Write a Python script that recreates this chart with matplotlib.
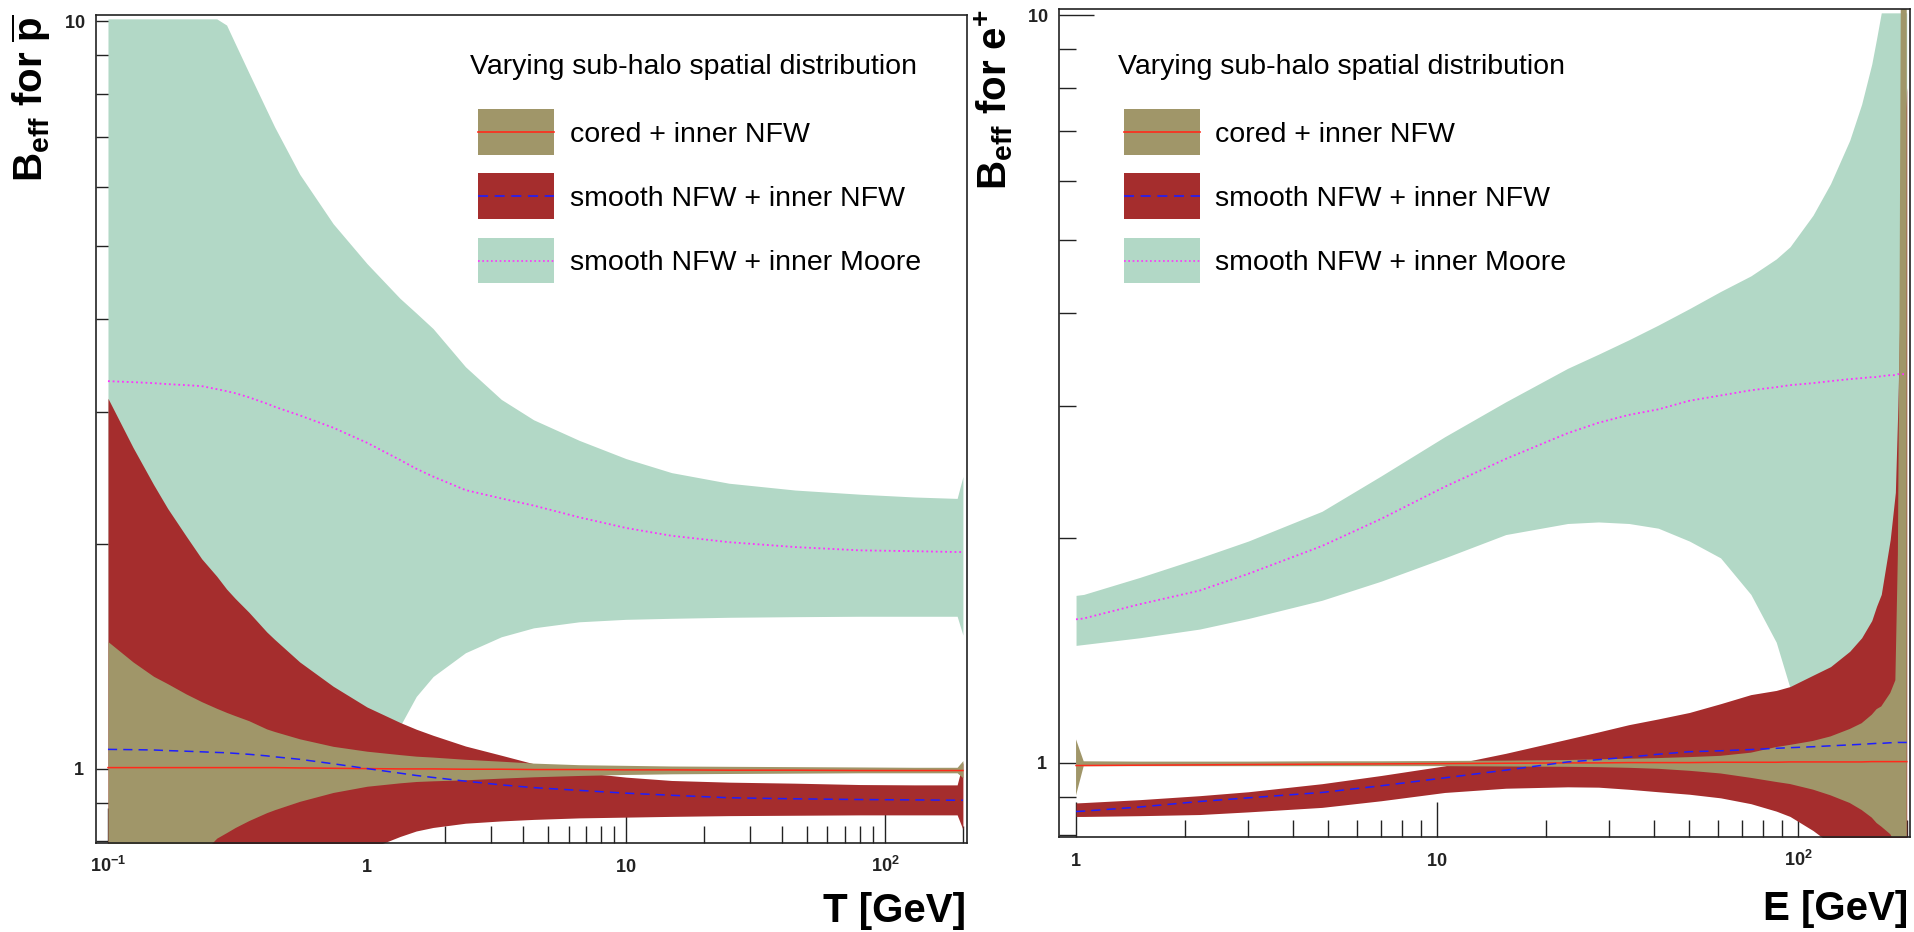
import matplotlib
matplotlib.use('Agg')
import matplotlib.pyplot as plt
from matplotlib.patches import Rectangle
from matplotlib.lines import Line2D
from matplotlib.ticker import FixedLocator, NullFormatter

plt.rcParams['font.family'] = ['Liberation Sans', 'DejaVu Sans']
plt.rcParams['mathtext.fontset'] = 'custom'
plt.rcParams['mathtext.rm'] = 'Liberation Sans'
plt.rcParams['mathtext.bf'] = 'Liberation Sans:bold'
plt.rcParams['mathtext.it'] = 'Liberation Sans:italic'

# ---------------- data: antiprotons (left) ----------------
T = [0.1, 0.125, 0.15, 0.17, 0.2, 0.23, 0.263, 0.287, 0.31, 0.35, 0.41, 0.44, 0.55, 0.74,
     1.0, 1.34, 1.55, 1.8, 2.4, 3.3, 4.4, 6.6, 10, 15, 25, 45, 80, 130, 190, 200]
pbar_moore_hi = [10.07, 10.07, 10.07, 10.07, 10.07, 10.07, 10.07, 9.88, 9.33, 8.53, 7.60,
                 7.22, 6.24, 5.36, 4.74, 4.26, 4.07, 3.88, 3.45, 3.12, 2.93, 2.75, 2.60,
                 2.49, 2.41, 2.36, 2.33, 2.31, 2.30, 2.46]
pbar_moore_mid = [3.30, 3.29, 3.28, 3.27, 3.26, 3.25, 3.22, 3.20, 3.18, 3.14, 3.08, 3.05,
                  2.97, 2.86, 2.73, 2.59, 2.52, 2.46, 2.36, 2.30, 2.25, 2.17, 2.10, 2.05,
                  2.01, 1.98, 1.96, 1.955, 1.95, 1.95]
pbar_moore_lo = [1.0, 1.0, 1.0, 1.0, 1.0, 1.0, 1.0, 1.0, 1.0, 1.0, 1.0, 1.0, 1.0, 1.0,
                 1.0, 1.14, 1.25, 1.329, 1.43, 1.502, 1.544, 1.573, 1.585, 1.59, 1.595,
                 1.598, 1.60, 1.60, 1.60, 1.51]
pbar_nfw_hi = [3.13, 2.69, 2.40, 2.23, 2.05, 1.91, 1.81, 1.74, 1.69, 1.62, 1.525, 1.49,
               1.39, 1.29, 1.21, 1.154, 1.13, 1.109, 1.073, 1.043, 1.016, 0.99, 0.975,
               0.965, 0.96, 0.957, 0.953, 0.952, 0.952, 1.02]
pbar_nfw_mid = [1.062, 1.061, 1.060, 1.058, 1.056, 1.054, 1.052, 1.051, 1.049, 1.046, 1.041,
                1.038, 1.030, 1.016, 1.001, 0.987, 0.980, 0.974, 0.963, 0.952, 0.944, 0.936,
                0.928, 0.922, 0.915, 0.912, 0.910, 0.909, 0.908, 0.908]
pbar_nfw_lo = [0.60, 0.61, 0.62, 0.63, 0.64, 0.65, 0.66, 0.665, 0.67, 0.68, 0.69, 0.70,
               0.72, 0.75, 0.78, 0.812, 0.826, 0.835, 0.846, 0.852, 0.856, 0.86, 0.862,
               0.864, 0.866, 0.867, 0.868, 0.868, 0.868, 0.83]
pbar_cored_hi = [1.48, 1.39, 1.33, 1.30, 1.26, 1.23, 1.205, 1.19, 1.178, 1.16, 1.131, 1.122,
                 1.097, 1.072, 1.056, 1.045, 1.040, 1.037, 1.030, 1.024, 1.018, 1.013,
                 1.011, 1.009, 1.008, 1.007, 1.006, 1.005, 1.005, 1.026]
pbar_cored_mid = [1.004, 1.004, 1.004, 1.004, 1.004, 1.004, 1.004, 1.004, 1.004, 1.004,
                  1.004, 1.004, 1.003, 1.002, 1.001, 1.0, 1.0, 1.0, 0.999, 0.999, 0.998,
                  0.998, 0.997, 0.997, 0.996, 0.996, 0.995, 0.995, 0.995, 0.995]
pbar_cored_lo = [0.60, 0.63, 0.66, 0.69, 0.73, 0.77, 0.808, 0.822, 0.835, 0.853, 0.874,
                 0.882, 0.905, 0.93, 0.948, 0.958, 0.962, 0.964, 0.967, 0.972, 0.976, 0.980,
                 0.983, 0.985, 0.986, 0.987, 0.988, 0.988, 0.988, 0.973]

# ---------------- data: positrons (right) ----------------
E = [1.0, 1.05, 1.5, 2.2, 3.0, 4.8, 7.0, 10.5, 15.5, 23, 28, 34, 41, 50, 61, 74, 87, 95,
     110, 123, 139, 150, 160, 165, 170, 180, 186, 189, 191, 193, 200]
ep_moore_hi = [1.675, 1.68, 1.77, 1.88, 1.98, 2.17, 2.42, 2.73, 3.04, 3.37, 3.52, 3.68,
               3.85, 4.05, 4.27, 4.48, 4.72, 4.90, 5.40, 5.95, 6.80, 7.60, 8.60, 9.30,
               10.07, 10.07, 10.07, 10.07, 10.07, 10.07, 10.07]
ep_moore_mid = [1.556, 1.56, 1.63, 1.70, 1.79, 1.95, 2.12, 2.34, 2.55, 2.76, 2.85, 2.92,
                2.97, 3.05, 3.10, 3.15, 3.18, 3.20, 3.22, 3.24, 3.26, 3.27, 3.28, 3.28,
                3.29, 3.30, 3.30, 3.31, 3.31, 3.31, 3.31]
ep_moore_lo = [1.436, 1.44, 1.47, 1.51, 1.56, 1.65, 1.75, 1.88, 2.02, 2.09, 2.10, 2.09,
               2.06, 1.98, 1.88, 1.68, 1.45, 1.26, 1.0, 1.0, 1.0, 1.0, 1.0, 1.0, 1.0,
               1.0, 1.0, 1.0, 1.0, 1.0, 1.0]
ep_nfw_hi = [0.884, 0.885, 0.893, 0.904, 0.915, 0.938, 0.962, 0.991, 1.03, 1.076, 1.10,
             1.125, 1.145, 1.168, 1.20, 1.234, 1.25, 1.265, 1.31, 1.345, 1.41, 1.47,
             1.55, 1.62, 1.68, 1.99, 2.30, 3.0, 3.8, 6.0, 8.0]
ep_nfw_mid = [0.861, 0.862, 0.873, 0.888, 0.898, 0.913, 0.932, 0.955, 0.978, 1.003, 1.010,
              1.018, 1.027, 1.035, 1.038, 1.042, 1.046, 1.048, 1.051, 1.054, 1.057, 1.059,
              1.061, 1.062, 1.062, 1.064, 1.064, 1.065, 1.065, 1.065, 1.065]
ep_nfw_lo = [0.848, 0.848, 0.850, 0.853, 0.860, 0.872, 0.890, 0.913, 0.925, 0.929, 0.928,
             0.922, 0.915, 0.908, 0.898, 0.882, 0.862, 0.848, 0.812, 0.78, 0.70, 0.70,
             0.70, 0.70, 0.70, 0.70, 0.70, 0.70, 0.70, 0.70, 0.70]
ep_cored_hi = [1.075, 1.005, 1.004, 1.004, 1.004, 1.005, 1.005, 1.006, 1.007, 1.009, 1.011,
               1.013, 1.015, 1.018, 1.022, 1.032, 1.050, 1.057, 1.070, 1.085, 1.110, 1.130,
               1.160, 1.180, 1.190, 1.240, 1.290, 1.90, 4.0, 14.0, 14.0]
ep_cored_mid = [0.992, 0.992, 0.993, 0.994, 0.995, 0.996, 0.997, 0.998, 0.999, 1.0, 1.0,
                1.001, 1.001, 1.001, 1.002, 1.002, 1.002, 1.003, 1.003, 1.003, 1.003, 1.003,
                1.004, 1.004, 1.004, 1.004, 1.004, 1.004, 1.004, 1.004, 1.004]
ep_cored_lo = [0.905, 0.99, 0.99, 0.99, 0.99, 0.99, 0.99, 0.99, 0.989, 0.988, 0.987, 0.985,
               0.982, 0.976, 0.968, 0.955, 0.943, 0.937, 0.921, 0.905, 0.884, 0.865, 0.845,
               0.831, 0.822, 0.803, 0.78, 0.70, 0.70, 0.70, 0.70]

legend_title = 'Varying sub-halo spatial distribution'
legend_labels = ['cored + inner NFW', 'smooth NFW + inner NFW', 'smooth NFW + inner Moore']

# ---------------- style ----------------
C_CORED = '#A09669'
C_NFW = '#A52D2D'
C_MOORE = '#B2D8C6'
L_CORED = '#FF2A1A'
L_NFW = '#1E1EFF'
L_MOORE = '#FF30FF'

W, H = 1915, 932
fig = plt.figure(figsize=(W / 100, H / 100), dpi=100)


def frac(x0, y0, x1, y1):
    return [x0 / W, 1 - y1 / H, (x1 - x0) / W, (y1 - y0) / H]


axL = fig.add_axes(frac(96, 15, 967, 843))
axR = fig.add_axes(frac(1059, 9, 1910, 837))


def draw_panel(ax, x, m_hi, m_mid, m_lo, n_hi, n_mid, n_lo, c_hi, c_mid, c_lo):
    ax.fill_between(x, m_lo, m_hi, color=C_MOORE, lw=0, zorder=1.0)
    ax.fill_between(x, n_lo, n_hi, color=C_NFW, lw=0, zorder=1.1)
    ax.fill_between(x, c_lo, c_hi, color=C_CORED, lw=0, zorder=1.2)
    ax.plot(x, c_mid, color=L_CORED, lw=1.1, zorder=2)
    ax.plot(x, n_mid, color=L_NFW, lw=1.1, dashes=(6, 4), zorder=2)
    ax.plot(x, m_mid, color=L_MOORE, lw=1.3, dashes=(1.0, 1.6), zorder=2)


draw_panel(axL, T, pbar_moore_hi, pbar_moore_mid, pbar_moore_lo,
           pbar_nfw_hi, pbar_nfw_mid, pbar_nfw_lo,
           pbar_cored_hi, pbar_cored_mid, pbar_cored_lo)
draw_panel(axR, E, ep_moore_hi, ep_moore_mid, ep_moore_lo,
           ep_nfw_hi, ep_nfw_mid, ep_nfw_lo,
           ep_cored_hi, ep_cored_mid, ep_cored_lo)

y_minor = [0.8, 0.9, 2, 3, 4, 5, 6, 7, 8, 9]


def setup_axis(ax, xlim, xmajor, xlabels, xminor):
    ax.set_xscale('log')
    ax.set_yscale('log')
    ax.set_xlim(*xlim)
    ax.set_ylim(0.796, 10.19)
    ax.set_axisbelow(True)
    for s in ax.spines.values():
        s.set_linewidth(1.2)
        s.set_color('#222222')
    ax.set_xticks(xmajor, xlabels)
    ax.xaxis.set_minor_locator(FixedLocator(xminor))
    ax.xaxis.set_minor_formatter(NullFormatter())
    ax.set_yticks([1, 10], [r'$\mathbf{1}$', r'$\mathbf{10}$'])
    ax.yaxis.set_minor_locator(FixedLocator(y_minor))
    ax.yaxis.set_minor_formatter(NullFormatter())
    ax.tick_params(which='both', direction='in', top=False, right=False,
                   width=1.0, colors='#222222')
    ax.tick_params(which='major', length=25, labelsize=13)
    ax.tick_params(which='minor', length=12)
    ax.tick_params(axis='y', which='major', pad=8)
    ax.tick_params(axis='x', which='major', pad=21)
    for lab in ax.get_xticklabels():
        lab.set_verticalalignment('baseline')


setup_axis(axL, (0.0899, 207.4), [0.1, 1, 10, 100],
           [r'$\mathbf{10^{-1}}$', r'$\mathbf{1}$', r'$\mathbf{10}$', r'$\mathbf{10^{2}}$'],
           [0.2, 0.3, 0.4, 0.5, 0.6, 0.7, 0.8, 0.9, 2, 3, 4, 5, 6, 7, 8, 9,
            20, 30, 40, 50, 60, 70, 80, 90, 200])
setup_axis(axR, (0.897, 204.2), [1, 10, 100],
           [r'$\mathbf{1}$', r'$\mathbf{10}$', r'$\mathbf{10^{2}}$'],
           [2, 3, 4, 5, 6, 7, 8, 9, 20, 30, 40, 50, 60, 70, 80, 90, 200])

# axis titles
fig.text(10 / W, 1 - 14 / H, r'$\mathbf{B_{eff}\ for\ \overline{p}}$', rotation=90,
         ha='left', va='top', fontsize=29)
fig.text(972 / W, 1 - 9 / H, r'$\mathbf{B_{eff}\ for\ e^{+}}$', rotation=90,
         ha='left', va='top', fontsize=29)
fig.text(966 / W, 1 - 922 / H, 'T [GeV]', ha='right', va='baseline',
         fontsize=29, fontweight='bold')
fig.text(1908 / W, 1 - 920 / H, 'E [GeV]', ha='right', va='baseline',
         fontsize=29, fontweight='bold')


# legends
def add_legend(x_title, x_box, x_text):
    fig.text(x_title / W, 1 - 74 / H, legend_title, fontsize=20.5, ha='left', va='baseline')
    rows = [(109, 155), (173, 219), (238, 283)]
    fills = [C_CORED, C_NFW, C_MOORE]
    lcols = [L_CORED, L_NFW, L_MOORE]
    dashes = [None, (6, 4), (1.0, 1.6)]
    for (y0, y1), fc, lc, ds, lab in zip(rows, fills, lcols, dashes, legend_labels):
        fig.add_artist(Rectangle((x_box / W, 1 - y1 / H), 76 / W, (y1 - y0) / H,
                                 transform=fig.transFigure, facecolor=fc, edgecolor='none'))
        yc = 1 - (y0 + y1) / 2 / H
        ln = Line2D([x_box / W, (x_box + 76) / W], [yc, yc], transform=fig.transFigure,
                    color=lc, lw=1.2)
        if ds is not None:
            ln.set_dashes(ds)
        fig.add_artist(ln)
        fig.text(x_text / W, 1 - ((y0 + y1) / 2 + 10) / H, lab, fontsize=20.5,
                 ha='left', va='baseline')


add_legend(470, 478, 570)
add_legend(1118, 1124, 1215)

fig.savefig('out.png', dpi=100)
